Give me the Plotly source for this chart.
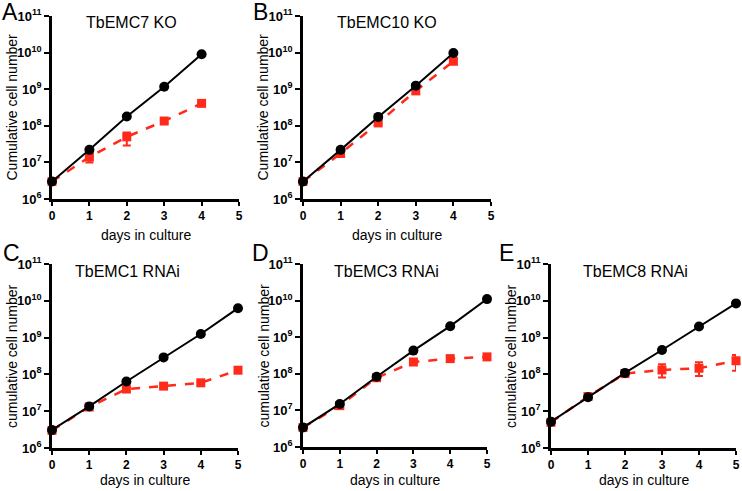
import plotly.graph_objects as go

# ---------------- data ----------------
days_ko = [0, 1, 2, 3, 4]
days_rnai = [0, 1, 2, 3, 4, 5]

A_ctrl = [3.0e6, 2.2e7, 1.8e8, 1.17e9, 9.0e9]
A_mut = [3.0e6, 1.4e7, 5.0e7, 1.35e8, 4.1e8]
A_err_plus = [0, 5e6, 1.6e7, 1.5e7, 3e7]
A_err_minus = [0, 4e6, 2.1e7, 1.5e7, 3e7]

B_ctrl = [3.0e6, 2.2e7, 1.75e8, 1.25e9, 9.8e9]
B_mut = [3.0e6, 1.75e7, 1.2e8, 9.0e8, 5.8e9]

C_ctrl = [3.1e6, 1.35e7, 6.4e7, 2.9e8, 1.25e9, 6.3e9]
C_mut = [3.0e6, 1.3e7, 4.0e7, 4.8e7, 5.9e7, 1.3e8]

D_ctrl = [3.4e6, 1.5e7, 8.3e7, 4.3e8, 2.0e9, 1.1e10]
D_mut = [3.4e6, 1.35e7, 7.8e7, 2.1e8, 2.6e8, 2.9e8]
D_err = [0, 0, 0, 2e7, 3e7, 3e7]

E_ctrl = [5.2e6, 2.4e7, 1.1e8, 4.6e8, 2.0e9, 8.5e9]
E_mut = [5.0e6, 2.5e7, 1.05e8, 1.32e8, 1.47e8, 2.35e8]
E_err_plus = [0, 0, 0, 5.6e7, 6.6e7, 1.0e8]
E_err_minus = [0, 0, 0, 4.9e7, 5.6e7, 1.1e8]

titles = ["TbEMC7 KO", "TbEMC10 KO", "TbEMC1 RNAi", "TbEMC3 RNAi", "TbEMC8 RNAi"]
letters = ["A", "B", "C", "D", "E"]
ytitles = ["Cumulative cell number", "Cumulative cell number",
           "cumulative cell number", "cumulative cell number", "cumulative cell number"]
xtitle = "days in culture"
x_ticks = [0, 1, 2, 3, 4, 5]
y_exps = [6, 7, 8, 9, 10, 11]

W, H = 742, 491
def px(x):
    return x / W
def py(y):
    return 1 - y / H

# panel pixel boxes: (left, right, top, bottom)
boxes = [(52, 239, 16, 199), (303, 491, 16, 199),
         (52, 238, 264, 448), (303, 487, 264, 447), (551, 736, 264, 448)]
title_pos = [(131, 22), (387, 22), (127, 271), (386, 271), (635, 271)]
letter_pos = [(0, 12), (251, 12), (1, 253), (250, 253), (497, 253)]
xtitle_y = [235, 235, 480, 480, 480]

panels = [
    (days_ko, A_ctrl, A_mut, A_err_plus, A_err_minus),
    (days_ko, B_ctrl, B_mut, None, None),
    (days_rnai, C_ctrl, C_mut, None, None),
    (days_rnai, D_ctrl, D_mut, D_err, D_err),
    (days_rnai, E_ctrl, E_mut, E_err_plus, E_err_minus),
]

FONT = "Liberation Sans, Arial, sans-serif"
RED = "#ff2a1a"

fig = go.Figure()
annotations = []
layout = {}
for i, (days, ctrl, mut, ep, em) in enumerate(panels):
    n = i + 1
    xa = "x" if n == 1 else f"x{n}"
    ya = "y" if n == 1 else f"y{n}"
    err = None
    if ep is not None:
        err = dict(type="data", array=ep, arrayminus=em, color=RED,
                   thickness=2, width=4, symmetric=False)
    fig.add_trace(go.Scatter(
        x=days, y=mut, xaxis=xa, yaxis=ya, mode="lines+markers",
        line=dict(color=RED, width=2.5, dash="dash"),
        marker=dict(symbol="square", size=9, color=RED),
        error_y=err, cliponaxis=False, showlegend=False))
    fig.add_trace(go.Scatter(
        x=days, y=ctrl, xaxis=xa, yaxis=ya, mode="lines+markers",
        line=dict(color="black", width=2),
        marker=dict(symbol="circle", size=10, color="black"),
        cliponaxis=False, showlegend=False))
    l, r, t, b = boxes[i]
    xkey = "xaxis" if n == 1 else f"xaxis{n}"
    ykey = "yaxis" if n == 1 else f"yaxis{n}"
    layout[xkey] = dict(
        domain=[px(l), px(r)], anchor=ya, range=[0, 5], tickmode="array",
        tickvals=x_ticks, ticktext=[str(v) for v in x_ticks], automargin=False,
        showgrid=False, zeroline=False, showline=True, linecolor="black",
        linewidth=2.5, ticks="outside", ticklen=4, tickwidth=2, tickcolor="black",
        tickfont=dict(family=FONT, size=12, color="black", weight="bold"))
    layout[ykey] = dict(
        domain=[py(b), py(t)], anchor=xa, type="log", range=[6, 11],
        tickmode="array", tickvals=[10 ** e for e in y_exps], automargin=False,
        ticktext=[f"10<sup>{e}</sup>" for e in y_exps],
        showgrid=False, zeroline=False, showline=True, linecolor="black",
        linewidth=2.5, ticks="outside", ticklen=5, tickwidth=2, tickcolor="black",
        tickfont=dict(family=FONT, size=13, color="black", weight="bold"))
    # axis titles
    annotations.append(dict(x=px((l + r) / 2), y=py(xtitle_y[i]), xref="paper",
                            yref="paper", text=xtitle, showarrow=False,
                            xanchor="center", yanchor="middle", borderpad=0,
                            font=dict(family=FONT, size=14, color="black")))
    annotations.append(dict(x=px(l - 40), y=py((t + b) / 2), xref="paper",
                            yref="paper", text=ytitles[i], showarrow=False,
                            textangle=-90, xanchor="center", yanchor="middle",
                            font=dict(family=FONT, size=14, color="black")))
    tx, ty = title_pos[i]
    annotations.append(dict(x=px(tx), y=py(ty), xref="paper", yref="paper",
                            text=titles[i], showarrow=False, xanchor="center",
                            yanchor="middle",
                            font=dict(family=FONT, size=16, color="black")))
    lx, ly = letter_pos[i]
    annotations.append(dict(x=px(lx), y=py(ly), xref="paper", yref="paper",
                            text=letters[i], showarrow=False, xanchor="left",
                            yanchor="middle",
                            font=dict(family=FONT, size=23, color="black")))

fig.update_layout(
    width=W, height=H, margin=dict(l=0, r=0, t=0, b=0, autoexpand=False),
    plot_bgcolor="white", paper_bgcolor="white",
    annotations=annotations, **layout)

fig.write_html("out.html", config={"displayModeBar": False},
               post_script="document.body.style.margin='0';document.body.style.overflow='hidden';")
